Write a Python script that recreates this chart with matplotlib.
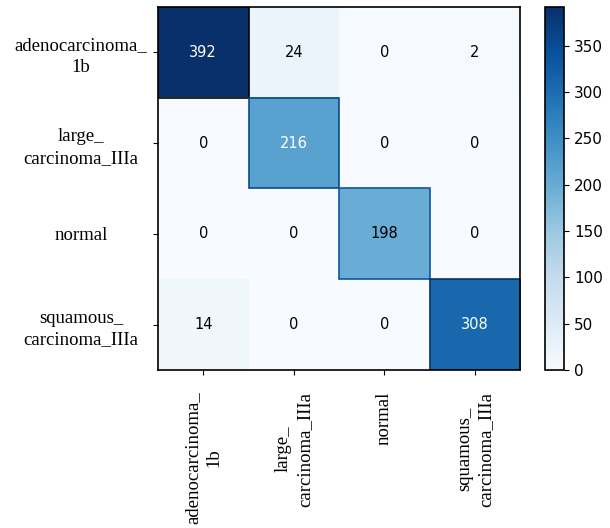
import matplotlib
matplotlib.use('Agg')
import matplotlib.pyplot as plt
import numpy as np

labels = ['adenocarcinoma_\n1b', 'large_\ncarcinoma_IIIa', 'normal',
          'squamous_\ncarcinoma_IIIa']
row0 = [392, 24, 0, 2]
row1 = [0, 216, 0, 0]
row2 = [0, 0, 198, 0]
row3 = [14, 0, 0, 308]

cm = np.array([row0, row1, row2, row3])

fig = plt.figure(figsize=(6.1, 5.28), dpi=100)
ax = fig.add_axes([0.259, 0.299, 0.594, 0.688])
cax = fig.add_axes([0.894, 0.299, 0.031, 0.688])

im = ax.imshow(cm, cmap='Blues', vmin=0, vmax=cm.max(), aspect='auto')

# cell outlines in a darker shade
cmap = plt.get_cmap('Blues')
for i in range(cm.shape[0]):
    for j in range(cm.shape[1]):
        v = cm[i, j]
        if v > 100:
            edge = cmap(min(1.0, v / cm.max() + 0.35))
            if v == cm.max():
                edge = 'black'
            ax.add_patch(plt.Rectangle((j - 0.5, i - 0.5), 1, 1, fill=False,
                                       edgecolor=edge, linewidth=1.2))
        color = 'white' if v > 200 else 'black'
        ax.text(j, i, str(v), ha='center', va='center', color=color,
                fontsize=10.5, fontweight='medium')

ax.set_xticks(np.arange(len(labels)))
ax.set_yticks(np.arange(len(labels)))
ax.set_xticklabels(labels, rotation=90, family='Liberation Serif', fontsize=13.5,
                   linespacing=1.35)
ax.set_yticklabels(labels, family='Liberation Serif', fontsize=13.5,
                   ha='center', linespacing=1.35)
ax.tick_params(axis='y', pad=52)
ax.tick_params(axis='x', pad=12)
for s in ax.spines.values():
    s.set_linewidth(1.2)

cb = fig.colorbar(im, cax=cax)
cb.set_ticks(np.arange(0, 351, 50))
cb.ax.tick_params(labelsize=11)
cb.outline.set_linewidth(1.2)

fig.savefig('out.png', dpi=100)
